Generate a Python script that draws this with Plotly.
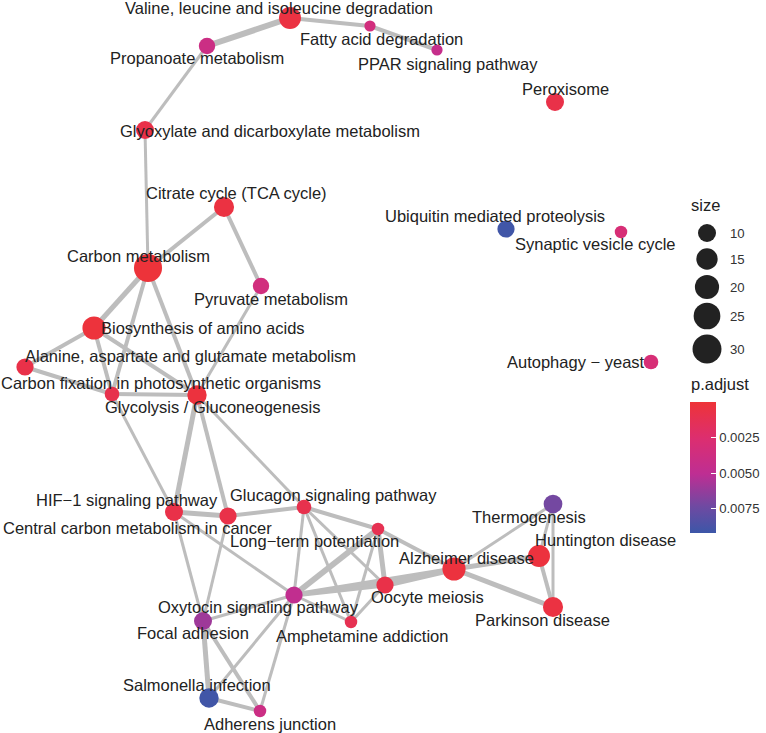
import plotly.graph_objects as go
import numpy as np

# ---------------- data ----------------
terms = [
    "Valine, leucine and isoleucine degradation", "Fatty acid degradation", "PPAR signaling pathway",
    "Propanoate metabolism", "Glyoxylate and dicarboxylate metabolism", "Peroxisome",
    "Citrate cycle (TCA cycle)", "Carbon metabolism", "Pyruvate metabolism",
    "Biosynthesis of amino acids", "Alanine, aspartate and glutamate metabolism",
    "Carbon fixation in photosynthetic organisms", "Glycolysis / Gluconeogenesis",
    "HIF\u22121 signaling pathway", "Central carbon metabolism in cancer", "Glucagon signaling pathway",
    "Long\u2212term potentiation", "Alzheimer disease", "Oocyte meiosis", "Oxytocin signaling pathway",
    "Amphetamine addiction", "Focal adhesion", "Salmonella infection", "Adherens junction",
    "Thermogenesis", "Huntington disease", "Parkinson disease",
    "Ubiquitin mediated proteolysis", "Synaptic vesicle cycle", "Autophagy \u2212 yeast",
]
# graph layout coordinates (as produced by the network layout)
layout_x = [290, 370, 437, 207, 145, 555, 224, 148, 261, 94, 25, 112, 197, 174, 228, 304,
            378, 454, 385, 294, 351, 203, 209, 260, 553, 539, 553, 506, 621, 651]
layout_y = [18, 26, 50, 46, 130, 102, 207, 268, 286, 328, 367, 394, 395, 512, 516, 507,
            529, 569, 585, 595, 622, 621, 698, 711, 504, 556, 607, 229, 232, 362]
gene_count = [16, 3, 3, 8, 10, 10, 13, 28, 8, 18, 9, 6, 12, 10, 9, 6,
              4, 18, 9, 9, 4, 10, 12, 4, 11, 16, 13, 9, 4, 6]
p_adjust = [0.0005, 0.0035, 0.0045, 0.0040, 0.0008, 0.0008, 0.0005, 0.0001, 0.0035, 0.0002,
            0.0008, 0.0010, 0.0003, 0.0008, 0.0008, 0.0010, 0.0012, 0.0003, 0.0008, 0.0048,
            0.0012, 0.0060, 0.0090, 0.0040, 0.0072, 0.0003, 0.0005, 0.0090, 0.0030, 0.0030]
# label offsets relative to the node (label placement)
label_dx = [-11, 11, 11, -10, 125, 10, 12, -10, 10, 109, 165, 49, 16, -47, -91, 29,
            -64, 12, 42, -36, 11, -10, -12, 10, -24, 66, -11, -11, -26, -75]
label_dy = [-10, 13, 14, 12, 1, -13, -14, -12, 13, 0, -11, -11, 12, -12, 12, -12,
            12, -11, 12, 12, 14, 12, -13, 13, 13, -16, 13, -13, 12, 0]

edges = [
    (0, 3, 6), (0, 1, 4), (1, 2, 4), (3, 4, 3), (4, 7, 3), (6, 7, 4), (6, 8, 4),
    (7, 9, 5), (7, 11, 4), (7, 12, 4), (8, 12, 3), (9, 10, 4), (9, 11, 4), (9, 12, 4),
    (10, 11, 4), (11, 12, 4), (11, 13, 3), (12, 13, 5), (12, 14, 4), (12, 15, 3),
    (13, 14, 5), (13, 19, 3), (13, 21, 3), (14, 15, 4), (14, 21, 3), (15, 19, 3),
    (15, 20, 3), (15, 16, 4), (15, 18, 3), (16, 17, 4), (16, 19, 6), (16, 18, 5),
    (16, 20, 3), (19, 18, 5), (19, 17, 5), (18, 17, 6), (19, 20, 3), (19, 21, 3),
    (19, 22, 3), (19, 23, 3), (20, 18, 3), (21, 22, 5), (21, 23, 4), (22, 23, 4),
    (17, 24, 3), (17, 25, 5), (17, 26, 5), (24, 25, 3), (24, 26, 3), (25, 26, 4),
]

size_breaks = [10, 15, 20, 25, 30]
p_ticks = [0.0025, 0.0050, 0.0075]
p_tick_labels = ["0.0025", "0.0050", "0.0075"]


def diameter(n):
    # area scale: diameter grows with sqrt of gene count
    return 3 + 4.74 * np.sqrt(np.asarray(n, dtype=float))


FONT = "Liberation Sans, Arial, Helvetica, sans-serif"
colorscale = [[0, "#3C57A8"], [0.2, "#6E4AA2"], [0.45, "#BE2E93"],
              [0.72, "#DC2E70"], [1, "#EE3338"]]
cmin, cmax = -0.0092, -0.00002

fig = go.Figure()

# edges grouped by width
for w in sorted(set(e[2] for e in edges)):
    xs, ys = [], []
    for a, b, ww in edges:
        if ww == w:
            xs += [layout_x[a], layout_x[b], None]
            ys += [layout_y[a], layout_y[b], None]
    fig.add_trace(go.Scatter(x=xs, y=ys, mode="lines",
                             line=dict(color="#BDBDBD", width=w),
                             hoverinfo="skip", showlegend=False))

# nodes
fig.add_trace(go.Scatter(
    x=layout_x, y=layout_y, mode="markers", text=terms, showlegend=False,
    marker=dict(size=diameter(gene_count), sizemode="diameter",
                color=[-p for p in p_adjust], colorscale=colorscale,
                cmin=cmin, cmax=cmax, line=dict(width=0), opacity=1,
                colorbar=dict(
                    x=690 / 766, xanchor="left", xpad=0,
                    y=1 - 533 / 733, yanchor="bottom", ypad=0,
                    lenmode="pixels", len=131, thickness=26,
                    outlinewidth=0, ticks="inside", ticklen=5, tickcolor="white",
                    tickwidth=1,
                    tickvals=[-v for v in p_ticks], ticktext=p_tick_labels,
                    tickfont=dict(family=FONT, size=13.2, color="#333333"),
                )),
))

# size legend
leg_y = [233, 259, 287, 316, 349]
fig.add_trace(go.Scatter(
    x=[707] * len(size_breaks), y=leg_y, mode="markers", showlegend=False,
    hoverinfo="skip",
    marker=dict(size=diameter(size_breaks), color="#222222", opacity=1, line=dict(width=0)),
))

annotations = []
for i, t in enumerate(terms):
    annotations.append(dict(x=layout_x[i] + label_dx[i], y=layout_y[i] + label_dy[i],
                            text=t, showarrow=False, xanchor="center", yanchor="middle",
                            font=dict(family=FONT, size=16.5, color="#222222")))
for s, yy in zip(size_breaks, leg_y):
    annotations.append(dict(x=728, y=yy, text=str(s), showarrow=False, xanchor="left",
                            yanchor="middle", font=dict(family=FONT, size=13.2, color="#333333")))
annotations.append(dict(x=689, y=205, text="size", showarrow=False, xanchor="left",
                        yanchor="middle", font=dict(family=FONT, size=16.5, color="#222222")))
annotations.append(dict(x=689, y=384, text="p.adjust", showarrow=False, xanchor="left",
                        yanchor="middle", font=dict(family=FONT, size=16.5, color="#222222")))

fig.update_layout(
    width=766, height=733, margin=dict(l=0, r=0, t=0, b=0, autoexpand=False),
    paper_bgcolor="white", plot_bgcolor="white",
    xaxis=dict(range=[0, 766], visible=False, showgrid=False, zeroline=False, fixedrange=True),
    yaxis=dict(range=[733, 0], visible=False, showgrid=False, zeroline=False, fixedrange=True),
    annotations=annotations, showlegend=False,
)

fig.write_html("out.html", config={"displayModeBar": False},
               post_script="document.body.style.margin='0';document.body.style.overflow='hidden';")
